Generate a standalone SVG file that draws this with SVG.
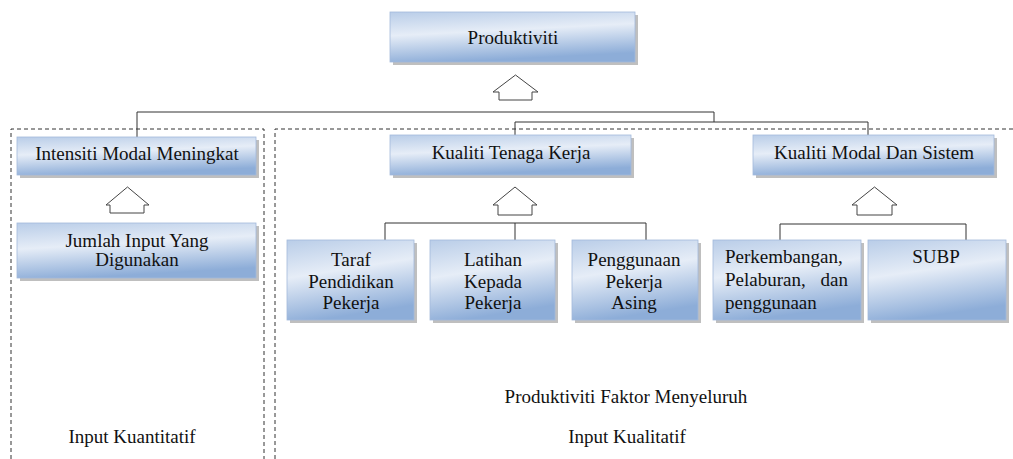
<svg xmlns="http://www.w3.org/2000/svg" width="1013" height="459" viewBox="0 0 1013 459" font-family="'Liberation Serif', 'DejaVu Serif', serif">
<defs>
<linearGradient id="g" x1="0" y1="0" x2="0.25" y2="1">
<stop offset="0" stop-color="#b9cde8"/>
<stop offset="0.45" stop-color="#e6edf7"/>
<stop offset="1" stop-color="#8dadd8"/>
</linearGradient>
<style>
.sh{fill:#8a8a8a;opacity:0.55}
.bx{fill:url(#g);stroke:#a3badb;stroke-width:0.8}
.t{font-family:'Liberation Serif','DejaVu Serif',serif;font-size:19px;fill:#111;text-anchor:middle}
.tl{text-anchor:start}
.te{text-anchor:end}
.ln{fill:none;stroke:#333;stroke-width:1}
.ds{fill:none;stroke:#333;stroke-width:1;stroke-dasharray:4 3}
.ar{fill:#fff;stroke:#444;stroke-width:1}
</style>
</defs>
<rect width="1013" height="459" fill="#fff"/>

<g id="regions">
<path class="ds" d="M11,459 V129 H264 V459"/>
<path class="ds" d="M275,459 V129 H1013"/>
</g>

<g id="connectors">
<path class="ln" d="M137,137 V112 H714 V122"/>
<path class="ln" d="M515,135 V122 H868 V135"/>
<path class="ln" d="M385,240 V223 H646 V240 M515,223 V240"/>
<path class="ln" d="M780,240 V224 H966 V240"/>
<path class="ar" d="M515.5,75 L538,92 L532,92 L532,100 L499,100 L499,92 L493,92 Z"/>
<path class="ar" d="M127.5,187 L149,205 L144,205 L144,213 L110,213 L110,205 L106,205 Z"/>
<path class="ar" d="M515,187 L537,205 L532,205 L532,215 L498,215 L498,205 L493,205 Z"/>
<path class="ar" d="M874.5,187 L897,205 L892,205 L892,215 L857,215 L857,205 L852,205 Z"/>
</g>

<g id="n-produktiviti">
<rect class="sh" x="393" y="15" width="245" height="50"/>
<rect class="bx" x="390" y="12" width="245" height="50"/>
<text class="t" x="513" y="44">Produktiviti</text>
</g>

<g id="n-intensiti">
<rect class="sh" x="20" y="140" width="239" height="38"/>
<rect class="bx" x="17" y="137" width="239" height="38"/>
<text class="t" x="137" y="160">Intensiti Modal Meningkat</text>
</g>

<g id="n-jumlah">
<rect class="sh" x="20" y="226" width="239" height="55"/>
<rect class="bx" x="17" y="223" width="239" height="55"/>
<text class="t" x="137" y="247">Jumlah Input Yang</text>
<text class="t" x="137" y="266">Digunakan</text>
</g>

<g id="n-kualiti-tenaga">
<rect class="sh" x="393" y="138" width="241" height="40"/>
<rect class="bx" x="390" y="135" width="241" height="40"/>
<text class="t" x="511" y="159">Kualiti Tenaga Kerja</text>
</g>

<g id="n-kualiti-modal">
<rect class="sh" x="756" y="138" width="241" height="40"/>
<rect class="bx" x="753" y="135" width="241" height="40"/>
<text class="t" x="874" y="159">Kualiti Modal Dan Sistem</text>
</g>

<g id="n-taraf">
<rect class="sh" x="290" y="243" width="127" height="80"/>
<rect class="bx" x="287" y="240" width="127" height="80"/>
<text class="t" x="351" y="266">Taraf</text>
<text class="t" x="351" y="288">Pendidikan</text>
<text class="t" x="351" y="309">Pekerja</text>
</g>

<g id="n-latihan">
<rect class="sh" x="433" y="243" width="125" height="80"/>
<rect class="bx" x="430" y="240" width="125" height="80"/>
<text class="t" x="493" y="266">Latihan</text>
<text class="t" x="493" y="288">Kepada</text>
<text class="t" x="493" y="309">Pekerja</text>
</g>

<g id="n-penggunaan">
<rect class="sh" x="575" y="243" width="126" height="80"/>
<rect class="bx" x="572" y="240" width="126" height="80"/>
<text class="t" x="634" y="266">Penggunaan</text>
<text class="t" x="634" y="288">Pekerja</text>
<text class="t" x="634" y="309">Asing</text>
</g>

<g id="n-perkembangan">
<rect class="sh" x="716" y="243" width="148" height="80"/>
<rect class="bx" x="713" y="240" width="148" height="80"/>
<text class="t tl" x="725" y="263">Perkembangan,</text>
<text class="t tl" x="725" y="286">Pelaburan,</text>
<text class="t te" x="848" y="286">dan</text>
<text class="t tl" x="725" y="309">penggunaan</text>
</g>

<g id="n-subp">
<rect class="sh" x="871" y="243" width="138" height="80"/>
<rect class="bx" x="868" y="240" width="138" height="80"/>
<text class="t" x="936" y="263">SUBP</text>
</g>

<g id="labels">
<text class="t" x="626" y="403">Produktiviti Faktor Menyeluruh</text>
<text class="t" x="132" y="443">Input Kuantitatif</text>
<text class="t" x="627" y="443">Input Kualitatif</text>
</g>
</svg>
